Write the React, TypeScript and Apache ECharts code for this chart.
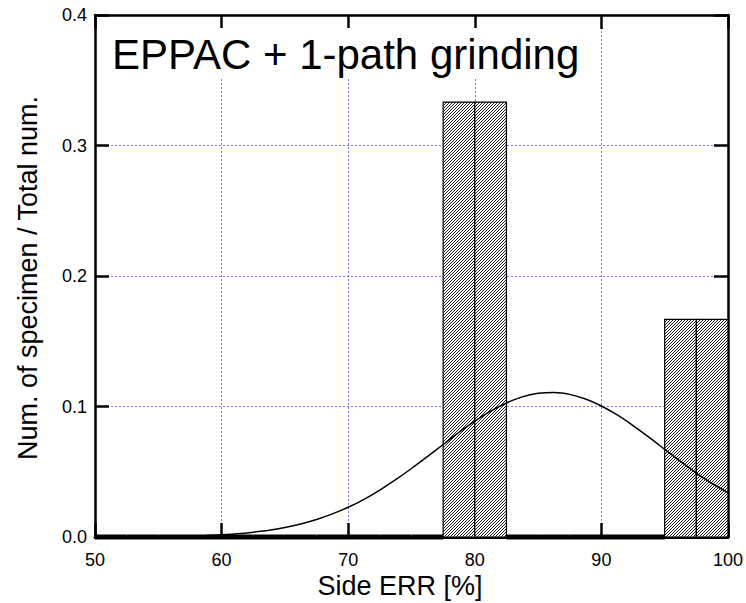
import React, { useEffect, useRef } from 'react';
import * as echarts from 'echarts';

// Histogram bins (Side ERR [%]) and relative frequencies
const binStart = [50, 52.5, 55, 57.5, 60, 62.5, 65, 67.5, 70, 72.5, 75, 77.5, 80, 82.5, 85, 87.5, 90, 92.5, 95, 97.5];
const binEnd = [52.5, 55, 57.5, 60, 62.5, 65, 67.5, 70, 72.5, 75, 77.5, 80, 82.5, 85, 87.5, 90, 92.5, 95, 97.5, 100];
const binFreq = [0, 0, 0, 0, 0, 0, 0, 0, 0, 0, 0, 0.3333, 0.3333, 0, 0, 0, 0, 0, 0.1667, 0.1667];

// Fitted distribution curve
const fitX = [50, 51.25, 52.5, 53.75, 55, 56.25, 57.5, 58.75, 60, 61.25, 62.5, 63.75, 65, 66.25, 67.5, 68.75, 70, 71.25, 72.5, 73.75, 75, 76.25, 77.5, 78.75, 80, 81.25, 82.5, 83.75, 85, 86.25, 87.5, 88.75, 90, 91.25, 92.5, 93.75, 95, 96.25, 97.5, 98.75, 100];
const fitY = [0.0000, 0.0001, 0.0001, 0.0002, 0.0003, 0.0005, 0.0007, 0.0011, 0.0017, 0.0025, 0.0037, 0.0052, 0.0073, 0.0100, 0.0134, 0.0177, 0.0228, 0.0289, 0.0360, 0.0439, 0.0525, 0.0616, 0.0709, 0.0801, 0.0887, 0.0964, 0.1027, 0.1074, 0.1101, 0.1108, 0.1093, 0.1057, 0.1004, 0.0935, 0.0854, 0.0765, 0.0672, 0.0579, 0.0490, 0.0410, 0.0340];

// Axis ranges
const xTickValues = [50, 60, 70, 80, 90, 100];
const yTickValues = [0, 0.1, 0.2, 0.3, 0.4];

const titleText = 'EPPAC + 1-path grinding';
const xName = 'Side ERR [%]';
const yName = 'Num. of specimen / Total num.';

const FONT = '"Liberation Sans", Arial, Helvetica, sans-serif';

function tick() {
  return { show: true, inside: true, length: 14, lineStyle: { color: '#000000', width: 2.5 } };
}

export default function App() {
  const ref = useRef<HTMLDivElement>(null);
  useEffect(() => {
    document.body.style.margin = '0';
    const chart = echarts.init(ref.current!, null, { renderer: 'svg' });
    const xMin = xTickValues[0];
    const xMax = xTickValues[xTickValues.length - 1];
    const yMin = yTickValues[0];
    const yMax = yTickValues[yTickValues.length - 1];
    const tile =
      "<svg xmlns='http://www.w3.org/2000/svg' width='3' height='3'>" +
      "<rect width='3' height='3' fill='#ffffff'/>" +
      "<path d='M-0.75,0.75 L0.75,-0.75 M0,3 L3,0 M2.25,3.75 L3.75,2.25' stroke='#222222' stroke-width='1'/>" +
      '</svg>';
    const hatch: any = {
      image: 'data:image/svg+xml;charset=utf-8,' + encodeURIComponent(tile),
      repeat: 'repeat',
      imageWidth: 3,
      imageHeight: 3,
    };
    const gridLine = () => ({ show: true, lineStyle: { color: '#7777ff', width: 1, type: [2, 2] as any } });
    const option: any = {
      animation: false,
      backgroundColor: '#fff',
      grid: { left: 95, right: 14, top: 15, bottom: 66 },
      title: {
        text: titleText, left: 104, top: 28, padding: [5, 8, 4, 8], backgroundColor: '#fff',
        textStyle: { fontFamily: FONT, fontSize: 42, fontWeight: 'normal', color: '#000' },
      },
      xAxis: [
        {
          type: 'value', position: 'bottom', min: xMin, max: xMax, interval: 10,
          axisLine: { show: true, onZero: false, lineStyle: { color: '#000', width: 3 } },
          axisTick: tick(),
          axisLabel: { color: '#000', fontFamily: FONT, fontSize: 18, margin: 14 },
          splitLine: gridLine(),
        },
        {
          type: 'value', position: 'top', min: xMin, max: xMax, interval: 10,
          axisLine: { show: true, onZero: false, lineStyle: { color: '#000', width: 2.5 } },
          axisTick: tick(),
          axisLabel: { show: false },
          splitLine: { show: false },
        },
      ],
      yAxis: [
        {
          type: 'value', position: 'left', min: yMin, max: yMax, interval: 0.1,
          axisLine: { show: true, onZero: false, lineStyle: { color: '#000', width: 2.5 } },
          axisTick: tick(),
          axisLabel: { color: '#000', fontFamily: FONT, fontSize: 18, margin: 8, formatter: (v: number) => v.toFixed(1) },
          splitLine: gridLine(),
        },
        {
          type: 'value', position: 'right', min: yMin, max: yMax, interval: 0.1,
          axisLine: { show: true, onZero: false, lineStyle: { color: '#000', width: 2.5 } },
          axisTick: tick(),
          axisLabel: { show: false },
          splitLine: { show: false },
        },
      ],
      graphic: [
        {
          type: 'text', x: 400, y: 586, z: 10,
          style: { text: xName, fontFamily: FONT, fontSize: 27, fill: '#000', align: 'center', verticalAlign: 'middle' },
        },
        {
          type: 'text', x: 28, y: 278, rotation: Math.PI / 2, z: 10,
          style: { text: yName, fontFamily: FONT, fontSize: 27, fill: '#000', align: 'center', verticalAlign: 'middle' },
        },
      ],
      series: [
        {
          type: 'custom', xAxisIndex: 0, yAxisIndex: 0, z: 3,
          data: binStart.map((s, i) => [s, binEnd[i], binFreq[i]]),
          encode: { x: [0, 1], y: 2 },
          renderItem: (params: any, api: any) => {
            const x0 = api.value(0);
            const x1 = api.value(1);
            const v = api.value(2);
            const p0 = api.coord([x0, v]);
            const p1 = api.coord([x1, 0]);
            return {
              type: 'rect',
              shape: { x: p0[0], y: p0[1], width: p1[0] - p0[0], height: p1[1] - p0[1] },
              style: { fill: v > 0 ? hatch : 'none', stroke: '#000', lineWidth: v > 0 ? 1.2 : 5 },
            };
          },
        },
        {
          type: 'line', xAxisIndex: 0, yAxisIndex: 0, z: 5,
          data: fitX.map((x, i) => [x, fitY[i]]),
          smooth: 0.3, showSymbol: false,
          lineStyle: { color: '#000', width: 1.5 },
        },
      ],
    };
    chart.setOption(option);
    return () => chart.dispose();
  }, []);
  return <div ref={ref} style={{ width: 746, height: 603 }} />;
}
